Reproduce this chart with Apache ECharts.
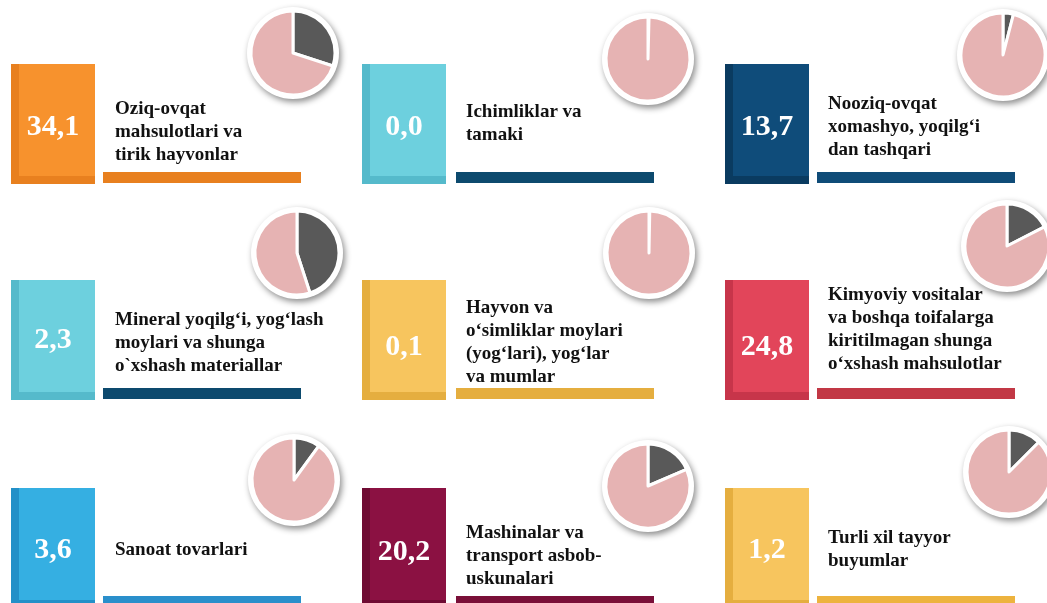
<!DOCTYPE html>
<html>
<head>
<meta charset="utf-8">
<script src="https://cdn.jsdelivr.net/npm/echarts@6/dist/echarts.min.js"></script>
<style>html,body{margin:0;padding:0;background:#fff;}#c{width:1047px;height:603px;}</style>
</head>
<body>
<div id="c"></div>
<script>
// ---- data ----
const categories = [
  'Oziq-ovqat\nmahsulotlari va\ntirik hayvonlar',
  'Ichimliklar va\ntamaki',
  'Nooziq-ovqat\nxomashyo, yoqilg‘i\ndan tashqari',
  'Mineral yoqilg‘i, yog‘lash\nmoylari va shunga\no`xshash materiallar',
  'Hayvon va\no‘simliklar moylari\n(yog‘lari), yog‘lar\nva mumlar',
  'Kimyoviy vositalar\nva boshqa toifalarga\nkiritilmagan shunga\no‘xshash mahsulotlar',
  'Sanoat tovarlari',
  'Mashinalar va\ntransport asbob-\nuskunalari',
  'Turli xil tayyor\nbuyumlar'
];
const values = [34.1, 0.0, 13.7, 2.3, 0.1, 24.8, 3.6, 20.2, 1.2];
const pieShare = [30, 0.4, 4, 45, 0.3, 17.5, 10, 18.5, 12.5];

// ---- layout / style ----
const boxL = [11, 362, 725];
const labelX = [115, 466, 828];
const ulX = [103, 456, 817];
const boxT = [64, 280, 488];
const pieCenter = [[293,53],[648,59],[1003,55],[297,253],[649,253],[1007,246],[294,480],[648,486],[1009,472]];
const labelY = [132, 124, 127, 343, 343, 330, 550, 556, 550];
const valueY = [127, 127, 127, 340, 347, 347, 550, 552, 550];
const boxMain = ['#F7922D','#6DD0DE','#0F4C7A','#6DD0DE','#F7C55E','#E2455A','#35AFE2','#8B1142','#F7C55E'];
const boxDark = ['#E8801F','#55BACB','#0A3B60','#55BACB','#E5AE3F','#C7354A','#2390C8','#6F0B33','#E5AE3F'];
const ulColor = ['#E8801F','#0D4A6E','#0F4C78','#0D4A6E','#E5AE3F','#C23845','#2A8FCB','#7A0F38','#EDB33E'];

const fmt = v => v.toFixed(1).replace('.', ',');
const BW = 84, BH = 120, UW = 198, UH = 11;
const graphics = [];
const series = [];
for (let i = 0; i < 9; i++) {
  const c = i % 3, r = Math.floor(i / 3);
  const x = boxL[c], y = boxT[r];
  graphics.push({type:'rect', shape:{x:x, y:y, width:BW, height:BH}, style:{fill:boxDark[i]}, z:1});
  graphics.push({type:'rect', shape:{x:x+8, y:y, width:BW-8, height:BH-8}, style:{fill:boxMain[i]}, z:1});
  graphics.push({type:'text', x:x+BW/2, y:valueY[i], z:2,
    style:{text:fmt(values[i]), fill:'#fff', font:'bold 30px "Liberation Serif", serif', align:'center', verticalAlign:'middle'}});
  graphics.push({type:'text', x:labelX[c], y:labelY[i], z:2,
    style:{text:categories[i], fill:'#111', font:'bold 19px "Liberation Serif", serif', lineHeight:23, align:'left', verticalAlign:'middle'}});
  graphics.push({type:'rect', shape:{x:ulX[c], y:y+108, width:UW, height:UH}, style:{fill:ulColor[i]}, z:1});
  graphics.push({type:'circle', shape:{cx:pieCenter[i][0], cy:pieCenter[i][1], r:46}, z:0,
    style:{fill:'#fff', shadowBlur:6, shadowOffsetX:2, shadowOffsetY:3, shadowColor:'rgba(0,0,0,0.45)'}});
  series.push({
    type:'pie', center:pieCenter[i], radius:[0, 42], startAngle:90, clockwise:true,
    label:{show:false}, labelLine:{show:false}, silent:true, animation:false, z:3,
    itemStyle:{borderColor:'#fff', borderWidth:3},
    data:[
      {value:pieShare[i], name:'share', itemStyle:{color:'#595959'}},
      {value:100 - pieShare[i], name:'rest', itemStyle:{color:'#E6B3B3'}}
    ]
  });
}
const chart = echarts.init(document.getElementById('c'), null, {renderer:'canvas'});
chart.setOption({backgroundColor:'#fff', animation:false, graphic:graphics, series:series});
</script>
</body>
</html>
